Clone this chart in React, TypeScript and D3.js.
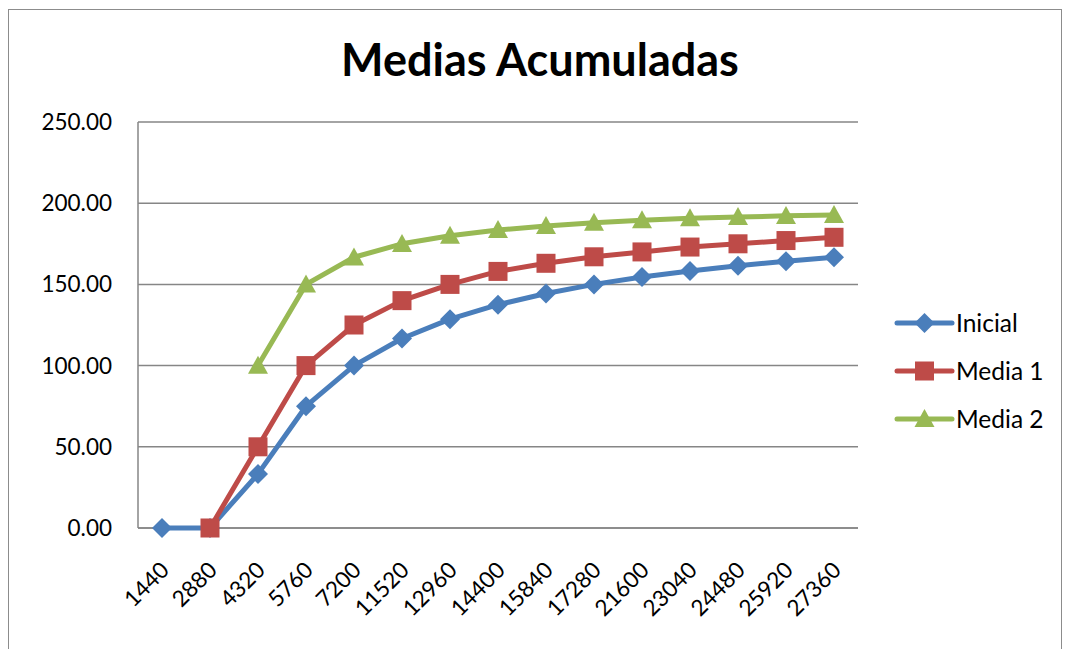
import React from "react";
import * as d3 from "d3";

const categories = ["1440","2880","4320","5760","7200","11520","12960","14400","15840","17280","21600","23040","24480","25920","27360"];
const inicial: (number|null)[] = [0, 0, 33.3, 75, 100, 116.7, 128.6, 137.5, 144.4, 150, 154.5, 158.3, 161.5, 164.3, 166.7];
const media1: (number|null)[] = [null, 0, 50, 100, 125, 140, 150, 158, 163, 167, 170, 173, 175, 177, 179];
const media2: (number|null)[] = [null, null, 100, 150, 166.7, 175, 180, 183.5, 186, 188, 189.5, 190.8, 191.5, 192.2, 192.8];
const yTicks = [0, 50, 100, 150, 200, 250];
const seriesNames = ["Inicial", "Media 1", "Media 2"];
const seriesColors = ["#4A7EBB", "#BE4B48", "#98B954"];
const seriesData = [inicial, media1, media2];
const markerTypes = ["diamond", "square", "triangle"];

const W = 1069, H = 649;
const left = 138, right = 858, top = 122, bottom = 528;
const FONT = "Lato, 'Open Sans', sans-serif";

function marker(type: string, x: number, y: number, color: string, key: string) {
  if (type === "diamond") {
    const s = 10;
    return <path key={key} d={`M${x},${y - s}L${x + s},${y}L${x},${y + s}L${x - s},${y}Z`} fill={color} />;
  }
  if (type === "square") {
    const s = 9.5;
    return <rect key={key} x={x - s} y={y - s} width={2 * s} height={2 * s} fill={color} />;
  }
  const w = 10, h = 18;
  return <path key={key} d={`M${x},${y - h * 0.55}L${x + w},${y + h * 0.45}L${x - w},${y + h * 0.45}Z`} fill={color} />;
}

export default function App() {
  const x = d3.scaleBand<string>().domain(categories).range([left, right]);
  const y = d3.scaleLinear().domain([0, 250]).range([bottom, top]);
  const cx = (c: string) => (x(c) as number) + x.bandwidth() / 2;
  const line = d3.line<[string, number | null]>()
    .defined(d => d[1] !== null)
    .x(d => cx(d[0]))
    .y(d => y(d[1] as number));

  return (
    <svg width={W} height={H} style={{ position: "absolute", left: 0, top: 0 }}>
      <rect x={0} y={0} width={W} height={H} fill="#fff" />
      <rect x={8.5} y={9.5} width={1053} height={660} fill="#fff" stroke="#8c8c8c" strokeWidth={1} />
      <text x={540} y={76} textAnchor="middle" fontFamily={FONT} fontWeight="bold" fontSize={45} fill="#000">Medias Acumuladas</text>
      {yTicks.map(t => (
        <g key={t}>
          <line x1={left} x2={right} y1={y(t)} y2={y(t)} stroke="#868686" strokeWidth={1.5} />
          <text x={112} y={y(t) + 8} textAnchor="end" fontFamily={FONT} fontSize={22.5} fill="#000">{t.toFixed(2)}</text>
        </g>
      ))}
      <line x1={left} x2={left} y1={top} y2={bottom} stroke="#868686" strokeWidth={1.5} />
      <line x1={left} x2={right} y1={bottom} y2={bottom} stroke="#868686" strokeWidth={1.5} />
      {categories.map(c => (
        <text key={c} transform={`translate(${cx(c) - 3},${bottom + 32}) rotate(-45)`} textAnchor="end" dy="0.72em"
          fontFamily={FONT} fontSize={22.5} fill="#000">{c}</text>
      ))}
      {seriesData.map((data, i) => {
        const pts = categories.map((c, j) => [c, data[j]] as [string, number | null]);
        return (
          <g key={i}>
            <path d={line(pts) || ""} fill="none" stroke={seriesColors[i]} strokeWidth={5} strokeLinejoin="round" />
            {pts.filter(p => p[1] !== null).map((p, j) => marker(markerTypes[i], cx(p[0]), y(p[1] as number), seriesColors[i], `${i}-${j}`))}
          </g>
        );
      })}
      {seriesNames.map((n, i) => {
        const ly = 323 + i * 48;
        return (
          <g key={n}>
            <line x1={897} x2={952} y1={ly} y2={ly} stroke={seriesColors[i]} strokeWidth={5} strokeLinecap="round" />
            {marker(markerTypes[i], 924.5, ly, seriesColors[i], "lg" + i)}
            <text x={956} y={ly + 9} fontFamily={FONT} fontSize={24.5} fill="#000">{n}</text>
          </g>
        );
      })}
    </svg>
  );
}
